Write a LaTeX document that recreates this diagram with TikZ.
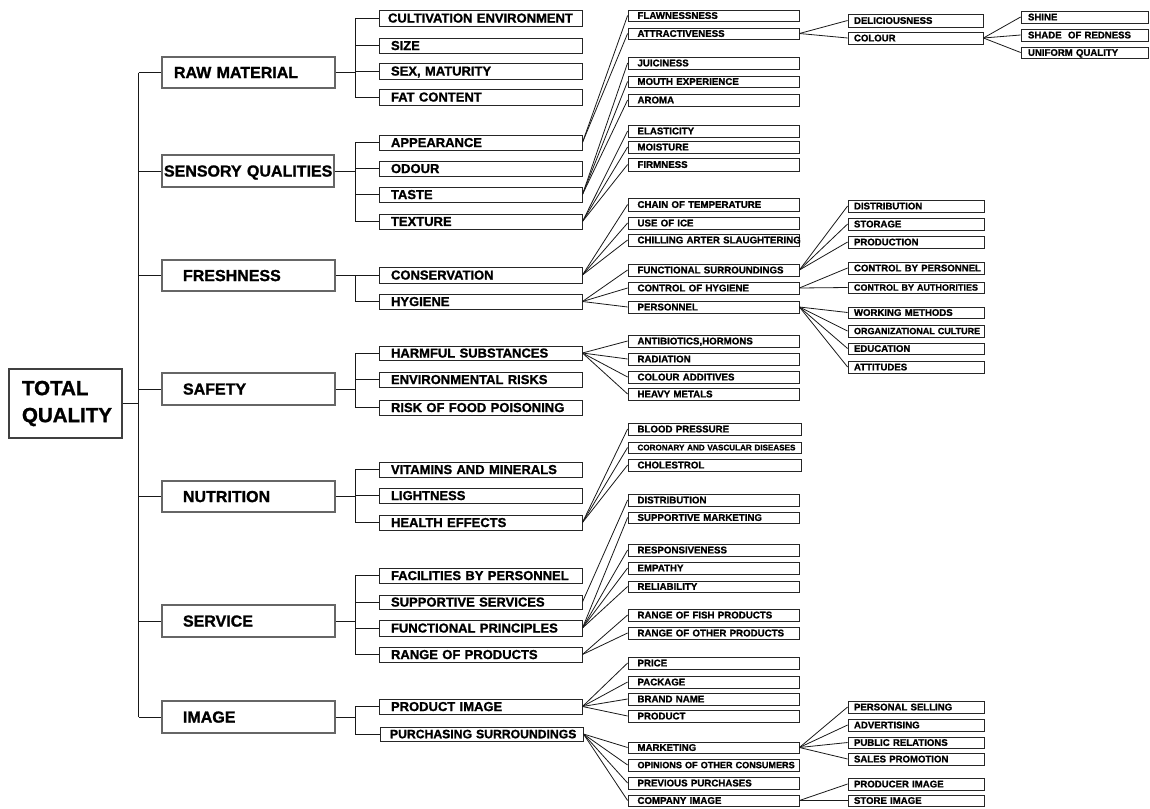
\documentclass[tikz,border=0pt]{standalone}
\usepackage{fontspec}
\setmainfont{Liberation Sans}[BoldFeatures={FakeBold=1.3}]
\usetikzlibrary{calc}
\newcommand\fsz[1]{\bfseries\fontsize{#1}{#1}\selectfont}
\tikzset{
  x=1pt, y=-1pt,
  lvT/.style={draw=black!75, line width=1.1pt, font=\bfseries\fontsize{20.5}{27}\selectfont},
  lvA/.style={draw=black!60, line width=1.1pt, font=\fsz{16}},
  lvB/.style={draw=black!85, line width=0.9pt, font=\fsz{13}},
  lvC/.style={draw=black!85, line width=0.8pt, font=\fsz{9.7}},
  lvD/.style={draw=black!85, line width=0.8pt, font=\fsz{9.6}},
  wire/.style={draw=black!90, line width=0.8pt},
}
% name, style, x1, y1, x2, y2, pad, text
\newcommand\bx[8]{%
  \pgfmathsetmacro\bxw{#5-#3}%
  \pgfmathsetmacro\bxh{#6-#4}%
  \pgfmathsetmacro\bxt{#5-#3-2*#7}%
  \pgfmathsetmacro\bxcx{(#3+#5)/2}%
  \pgfmathsetmacro\bxcy{(#4+#6)/2}%
  \node[#2, rectangle, minimum width=\bxw pt, minimum height=\bxh pt,
        text width=\bxt pt, inner xsep=#7pt, inner ysep=0pt, align=left,
        text depth=0pt] (#1) at (\bxcx,\bxcy) {\mbox{#8}};%
}
\newcommand\fan[2]{\foreach \cc in {#2} {\draw[wire] (#1.east) -- (\cc.west);}}
\begin{document}
\begin{tikzpicture}
\useasboundingbox[fill=white] (0,0) rectangle (1150,808);
\coordinate (tk) at (138.5,0);
\coordinate (bk) at (355,0);

% root
\node[lvT, rectangle, minimum width=113pt, minimum height=69pt, text width=87pt,
      inner xsep=13pt, inner ysep=0pt, align=left] (tq) at (65.5,403.5) {TOTAL\\QUALITY};

% level 1
\bx{raw}{lvA}{162}{57}{335}{88}{12}{RAW MATERIAL}
\bx{sen}{lvA}{162}{155}{334}{187}{2}{SENSORY QUALITIES}
\bx{fre}{lvA}{162}{260}{335}{291}{21}{FRESHNESS}
\bx{saf}{lvA}{162}{373}{335}{405}{21}{SAFETY}
\bx{nut}{lvA}{162}{481}{335}{512}{21}{NUTRITION}
\bx{ser}{lvA}{162}{605}{335}{637}{21}{SERVICE}
\bx{img}{lvA}{162}{701}{335}{733}{21}{IMAGE}

% level 2
\bx{cul}{lvB}{379}{10}{582}{26}{9}{CULTIVATION ENVIRONMENT}
\bx{siz}{lvB}{379}{38}{582}{53}{12}{SIZE}
\bx{sex}{lvB}{379}{63}{582}{79}{12}{SEX, MATURITY}
\bx{fat}{lvB}{379}{89}{582}{105}{12}{FAT CONTENT}
\bx{app}{lvB}{379}{135}{582}{150}{12}{APPEARANCE}
\bx{odo}{lvB}{379}{161}{582}{176}{12}{ODOUR}
\bx{tas}{lvB}{379}{187}{582}{202}{12}{TASTE}
\bx{tex}{lvB}{379}{214}{582}{229}{12}{TEXTURE}
\bx{con}{lvB}{379}{267}{582}{283}{12}{CONSERVATION}
\bx{hyg}{lvB}{379}{294}{582}{309}{12}{HYGIENE}
\bx{har}{lvB}{379}{346}{582}{360}{12}{HARMFUL SUBSTANCES}
\bx{env}{lvB}{379}{372}{582}{387}{12}{ENVIRONMENTAL RISKS}
\bx{ris}{lvB}{379}{400}{582}{415}{12}{RISK OF FOOD POISONING}
\bx{vit}{lvB}{379}{462}{582}{477}{12}{VITAMINS AND MINERALS}
\bx{lig}{lvB}{379}{488}{582}{503}{12}{LIGHTNESS}
\bx{hea}{lvB}{379}{515}{582}{530}{12}{HEALTH EFFECTS}
\bx{fac}{lvB}{379}{568}{582}{583}{12}{FACILITIES BY PERSONNEL}
\bx{sup}{lvB}{379}{595}{582}{609}{12}{SUPPORTIVE SERVICES}
\bx{fun}{lvB}{379}{620}{582}{636}{12}{FUNCTIONAL PRINCIPLES}
\bx{ran}{lvB}{379}{647}{582}{662}{12}{RANGE OF PRODUCTS}
\bx{pim}{lvB}{379}{699}{582}{714}{12}{PRODUCT IMAGE}
\bx{pur}{lvB, font=\fsz{12.2}}{380}{727}{583}{741}{10}{PURCHASING SURROUNDINGS}

% level 3
\bx{fla}{lvC}{628}{10}{799}{21}{9.5}{FLAWNESSNESS}
\bx{att}{lvC}{628}{28}{799}{39}{9.5}{ATTRACTIVENESS}
\bx{jui}{lvC}{628}{57}{799}{69}{9.5}{JUICINESS}
\bx{mou}{lvC}{628}{76}{799}{87}{9.5}{MOUTH EXPERIENCE}
\bx{aro}{lvC}{628}{94}{799}{106}{9.5}{AROMA}
\bx{ela}{lvC}{628}{125}{799}{137}{9.5}{ELASTICITY}
\bx{moi}{lvC}{628}{141}{799}{153}{9.5}{MOISTURE}
\bx{fir}{lvC}{628}{158}{799}{171}{9.5}{FIRMNESS}
\bx{cha}{lvC}{628}{198}{799}{211}{9.5}{CHAIN OF TEMPERATURE}
\bx{ice}{lvC}{628}{217}{799}{229}{9.5}{USE OF ICE}
\bx{chi}{lvC}{628}{234}{799}{246}{9.5}{CHILLING ARTER SLAUGHTERING}
\bx{fsu}{lvC}{628}{264}{799}{276}{9.5}{FUNCTIONAL SURROUNDINGS}
\bx{coh}{lvC}{628}{282}{799}{294}{9.5}{CONTROL OF HYGIENE}
\bx{per}{lvC}{628}{301}{799}{313}{9.5}{PERSONNEL}
\bx{ant}{lvC}{628}{335}{799}{347}{9.5}{ANTIBIOTICS,HORMONS}
\bx{rad}{lvC}{628}{353}{799}{365}{9.5}{RADIATION}
\bx{cad}{lvC}{628}{371}{799}{383}{9.5}{COLOUR ADDITIVES}
\bx{hvy}{lvC}{628}{388}{799}{400}{9.5}{HEAVY METALS}
\bx{blo}{lvC}{628}{423}{801}{435}{9.5}{BLOOD PRESSURE}
\bx{cor}{lvC, font=\fsz{8.1}}{628}{442}{801}{453}{9.5}{CORONARY AND VASCULAR DISEASES}
\bx{cho}{lvC}{628}{459}{801}{471}{9.5}{CHOLESTROL}
\bx{dis}{lvC}{628}{494}{799}{506}{9.5}{DISTRIBUTION}
\bx{spm}{lvC}{628}{512}{799}{523}{9.5}{SUPPORTIVE MARKETING}
\bx{res}{lvC}{628}{544}{799}{556}{9.5}{RESPONSIVENESS}
\bx{emp}{lvC}{628}{562}{799}{574}{9.5}{EMPATHY}
\bx{rel}{lvC}{628}{581}{799}{592}{9.5}{RELIABILITY}
\bx{rfp}{lvC}{628}{609}{799}{621}{9.5}{RANGE OF FISH PRODUCTS}
\bx{rop}{lvC}{628}{627}{799}{639}{9.5}{RANGE OF OTHER PRODUCTS}
\bx{pri}{lvC}{628}{657}{799}{669}{9.5}{PRICE}
\bx{pac}{lvC}{628}{676}{799}{688}{9.5}{PACKAGE}
\bx{bra}{lvC}{628}{693}{799}{705}{9.5}{BRAND NAME}
\bx{prd}{lvC}{628}{710}{799}{722}{9.5}{PRODUCT}
\bx{mar}{lvC}{628}{742}{799}{753}{9.5}{MARKETING}
\bx{opi}{lvC, font=\fsz{9.1}}{628}{759}{799}{771}{9.5}{OPINIONS OF OTHER CONSUMERS}
\bx{pre}{lvC}{628}{777}{799}{789}{9.5}{PREVIOUS PURCHASES}
\bx{com}{lvC}{628}{795}{799}{806}{9.5}{COMPANY IMAGE}

% level 4
\bx{del}{lvD}{848}{14}{983}{27}{6}{DELICIOUSNESS}
\bx{col}{lvD}{848}{32}{983}{44}{6}{COLOUR}
\bx{dst}{lvD}{848}{200}{984}{212}{6}{DISTRIBUTION}
\bx{sto}{lvD}{848}{218}{984}{230}{6}{STORAGE}
\bx{pdn}{lvD}{848}{236}{984}{248}{6}{PRODUCTION}
\bx{cbp}{lvD}{848}{262}{984}{274}{6}{CONTROL BY PERSONNEL}
\bx{cba}{lvD, font=\fsz{9}}{848}{282}{984}{293}{6}{CONTROL BY AUTHORITIES}
\bx{wme}{lvD}{848}{307}{984}{318}{6}{WORKING METHODS}
\bx{org}{lvD, font=\fsz{9}}{848}{325}{984}{337}{6}{ORGANIZATIONAL CULTURE}
\bx{edu}{lvD}{848}{343}{984}{354}{6}{EDUCATION}
\bx{atu}{lvD}{848}{361}{984}{373}{6}{ATTITUDES}
\bx{pse}{lvD}{848}{701}{984}{713}{6}{PERSONAL SELLING}
\bx{adv}{lvD}{848}{719}{984}{731}{6}{ADVERTISING}
\bx{pub}{lvD}{848}{737}{984}{748}{6}{PUBLIC RELATIONS}
\bx{sal}{lvD}{848}{753}{984}{765}{6}{SALES PROMOTION}
\bx{pmi}{lvD}{848}{778}{984}{790}{6}{PRODUCER IMAGE}
\bx{sim}{lvD}{848}{795}{984}{806}{6}{STORE IMAGE}

% level 5
\bx{shi}{lvD}{1021}{11}{1148}{23}{7}{SHINE}
\bx{sha}{lvD}{1021}{29}{1148}{41}{7}{SHADE\ \ OF REDNESS}
\bx{uni}{lvD}{1021}{47}{1148}{58}{7}{UNIFORM QUALITY}

% trunk
\draw[wire] (tq.east) -- (tq.east -| tk);
\draw[wire] (raw.west -| tk) -- (img.west -| tk);
\foreach \n in {raw,sen,fre,saf,nut,ser,img} {\draw[wire] (\n.west -| tk) -- (\n.west);}

% brackets level 2
\newcommand\brk[3]{%
  \draw[wire] (#1.east) -- (#1.east -| bk);
  \draw[wire] (#2.west -| bk) -- (#3.west -| bk);
}
\brk{raw}{cul}{fat}
\brk{sen}{app}{tex}
\brk{fre}{con}{hyg}
\brk{saf}{har}{ris}
\brk{nut}{vit}{hea}
\brk{ser}{fac}{ran}
\brk{img}{pim}{pur}
\foreach \c in {cul,siz,sex,fat,app,odo,tas,tex,con,hyg,har,env,ris,vit,lig,hea,fac,sup,fun,ran,pim,pur}
  {\draw[wire] (\c.west -| bk) -- (\c.west);}

% fans
\fan{app}{fla,att}
\fan{tas}{jui,mou,aro}
\fan{tex}{ela,moi,fir}
\fan{con}{cha,ice,chi}
\fan{hyg}{fsu,coh,per}
\fan{har}{ant,rad,cad,hvy}
\fan{hea}{blo,cor,cho}
\fan{sup}{dis}
\fan{fun}{spm,res,emp,rel}
\fan{ran}{rfp,rop}
\fan{pim}{pri,pac,bra,prd}
\fan{pur}{mar,opi,pre,com}
\fan{att}{del,col}
\fan{col}{shi,sha,uni}
\fan{fsu}{dst,sto,pdn}
\fan{coh}{cbp,cba}
\fan{per}{wme,org,edu,atu}
\fan{mar}{pse,adv,pub,sal}
\fan{com}{pmi,sim}
\end{tikzpicture}
\end{document}
